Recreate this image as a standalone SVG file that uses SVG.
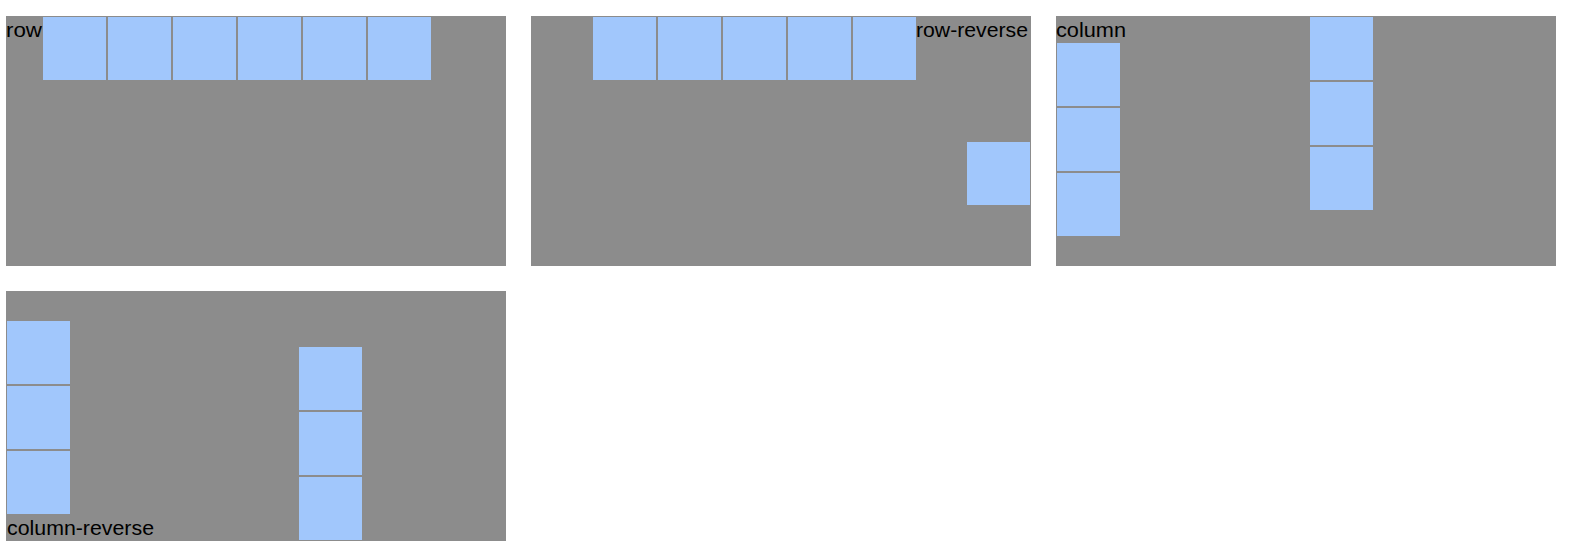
<svg xmlns="http://www.w3.org/2000/svg" width="1571" height="550" viewBox="0 0 1571 550">
<style>
.panel{fill:#8c8c8c}
.item{fill:#a1c7fc}
.lbl{font-family:"Liberation Sans",Arial,sans-serif;font-size:20px;fill:#000}
</style>
<rect width="1571" height="550" fill="#fff"/>
<g id="row">
<rect class="panel" x="6" y="16" width="500" height="250"/>
<rect class="item" x="43" y="17" width="63" height="63"/>
<rect class="item" x="108" y="17" width="63" height="63"/>
<rect class="item" x="173" y="17" width="63" height="63"/>
<rect class="item" x="238" y="17" width="63" height="63"/>
<rect class="item" x="303" y="17" width="63" height="63"/>
<rect class="item" x="368" y="17" width="63" height="63"/>
<text class="lbl" x="6" y="37" textLength="36" lengthAdjust="spacingAndGlyphs">row</text>
</g>
<g id="row-reverse">
<rect class="panel" x="531" y="16" width="500" height="250"/>
<rect class="item" x="593" y="17" width="63" height="63"/>
<rect class="item" x="658" y="17" width="63" height="63"/>
<rect class="item" x="723" y="17" width="63" height="63"/>
<rect class="item" x="788" y="17" width="63" height="63"/>
<rect class="item" x="853" y="17" width="63" height="63"/>
<rect class="item" x="967" y="142" width="63" height="63"/>
<text class="lbl" x="916" y="37" textLength="112" lengthAdjust="spacingAndGlyphs">row-reverse</text>
</g>
<g id="column">
<rect class="panel" x="1056" y="16" width="500" height="250"/>
<text class="lbl" x="1056" y="37" textLength="70" lengthAdjust="spacingAndGlyphs">column</text>
<rect class="item" x="1057" y="43" width="63" height="63"/>
<rect class="item" x="1057" y="108" width="63" height="63"/>
<rect class="item" x="1057" y="173" width="63" height="63"/>
<rect class="item" x="1310" y="17" width="63" height="63"/>
<rect class="item" x="1310" y="82" width="63" height="63"/>
<rect class="item" x="1310" y="147" width="63" height="63"/>
</g>
<g id="column-reverse">
<rect class="panel" x="6" y="291" width="500" height="250"/>
<rect class="item" x="7" y="321" width="63" height="63"/>
<rect class="item" x="7" y="386" width="63" height="63"/>
<rect class="item" x="7" y="451" width="63" height="63"/>
<rect class="item" x="299" y="347" width="63" height="63"/>
<rect class="item" x="299" y="412" width="63" height="63"/>
<rect class="item" x="299" y="477" width="63" height="63"/>
<text class="lbl" x="7" y="535" textLength="147" lengthAdjust="spacingAndGlyphs">column-reverse</text>
</g>
<g id="connectors"/>
</svg>
